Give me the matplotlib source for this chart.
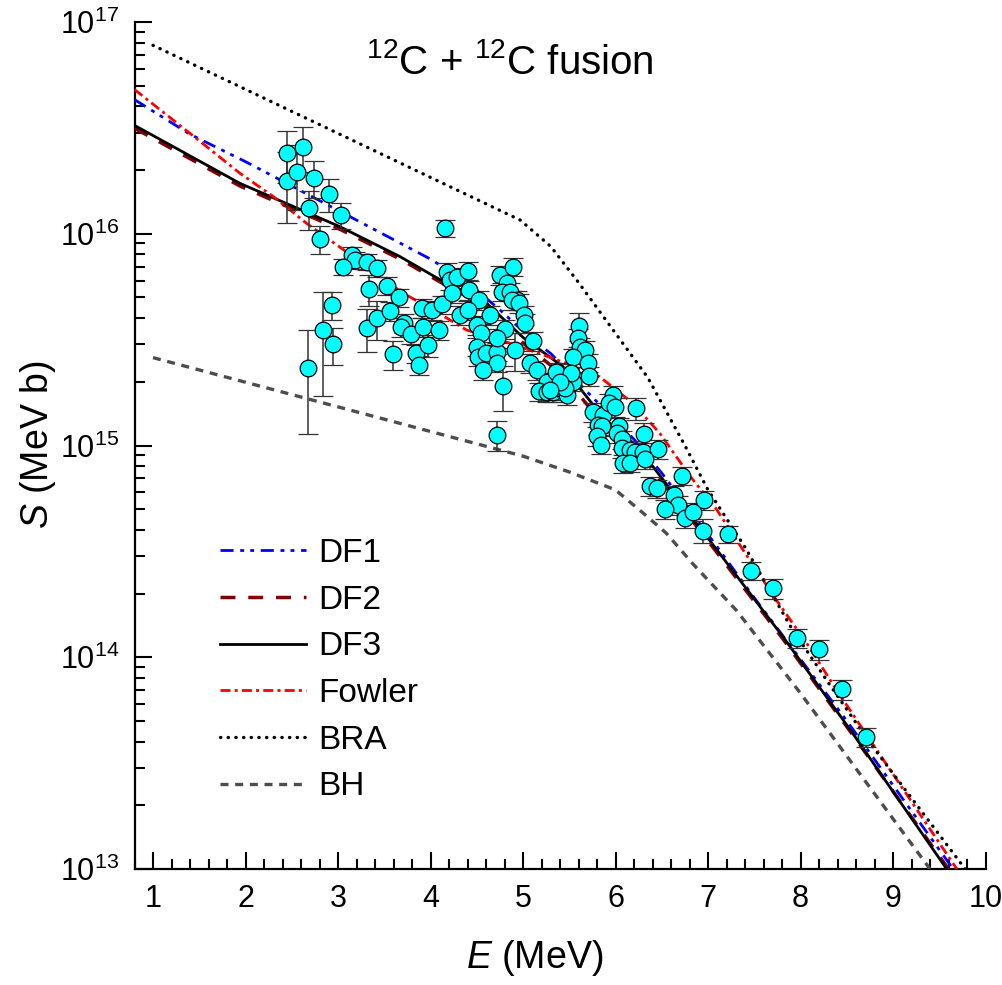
import matplotlib
matplotlib.use('Agg')
import matplotlib.pyplot as plt
import numpy as np
from matplotlib.ticker import LogLocator, MultipleLocator, LogFormatterMathtext, NullFormatter

plt.rcParams['font.family'] = ['Liberation Sans', 'DejaVu Sans']
plt.rcParams['mathtext.fontset'] = 'custom'
plt.rcParams['mathtext.rm'] = 'Liberation Sans'
plt.rcParams['mathtext.it'] = 'Liberation Sans:italic'
plt.rcParams['mathtext.bf'] = 'Liberation Sans:bold'

# ---------------- data (E in MeV, S in MeV b) ----------------
exp_E = [2.445, 2.445, 2.618, 2.560, 2.741, 2.906, 2.683, 3.029, 2.809, 3.148,
         3.181, 3.057, 3.310, 3.425, 3.338, 3.526, 3.656, 2.932, 2.835, 2.949,
         2.672, 3.310, 3.418, 3.562, 3.717, 3.681, 3.786, 3.591, 3.843, 3.879,
         3.970, 3.916, 3.905, 4.019, 4.124, 4.089, 4.157, 4.175, 4.211, 4.283,
         4.409, 4.229, 4.419, 4.524, 4.319, 4.409, 4.499, 4.543, 4.643, 4.506,
         4.517, 4.600, 4.716, 4.716, 4.571, 4.781, 4.716, 4.805, 4.716, 4.914,
         4.751, 4.895, 4.824, 4.770, 4.859, 4.938, 4.878, 4.960, 5.011, 5.022,
         5.105, 5.076, 5.148, 5.256, 5.357, 5.454, 5.544, 5.176, 5.256, 5.321,
         5.392, 5.472, 5.605, 5.598, 5.616, 5.670, 5.544, 5.706, 5.717, 5.516,
         5.454, 5.400, 5.292, 5.760, 5.868, 5.814, 5.851, 5.797, 5.843, 5.970,
         5.933, 5.995, 6.041, 6.013, 6.067, 6.067, 6.157, 6.211, 6.301, 6.084,
         6.157, 6.222, 6.308, 6.463, 6.319, 6.373, 6.452, 6.632, 6.672, 6.535,
         6.751, 6.841, 6.957, 6.716, 6.949, 7.213, 7.462, 7.706, 7.959, 8.203,
         8.452, 8.708]
exp_S15 = [24.0, 17.75, 25.8, 19.6, 18.4, 15.4, 13.2, 12.2, 9.41, 7.94,
           7.52, 6.99, 7.38, 6.87, 5.48, 5.68, 5.01, 4.61, 3.51, 3.00,
           2.32, 3.58, 3.99, 4.32, 3.78, 3.62, 3.35, 2.70, 2.72, 2.40,
           2.98, 3.62, 4.45, 4.36, 4.64, 3.51, 10.6, 6.62, 6.05, 6.27,
           6.69, 5.23, 5.43, 4.87, 4.13, 4.36, 3.71, 3.41, 4.13, 2.93,
           2.63, 2.72, 2.77, 2.46, 2.27, 1.91, 1.12, 3.54, 3.21, 2.82,
           6.38, 6.99, 5.83, 5.33, 5.33, 4.87, 4.87, 4.70, 4.13, 3.78,
           3.12, 2.45, 2.27, 2.00, 2.23, 2.00, 2.00, 1.80, 1.78, 1.78,
           1.86, 1.73, 3.68, 3.23, 2.93, 2.82, 2.61, 2.46, 2.13, 2.21,
           1.86, 2.00, 1.83, 1.44, 1.39, 1.25, 1.23, 1.11, 1.01, 1.73,
           1.59, 1.52, 1.23, 1.14, 1.07, 0.970, 0.952, 0.935, 0.935, 0.824,
           0.829, 1.50, 1.13, 0.960, 0.861, 0.644, 0.628, 0.584, 0.524, 0.500,
           0.453, 0.487, 0.553, 0.720, 0.396, 0.381, 0.256, 0.212, 0.123, 0.109,
           0.0706, 0.0419]
exp_rel = [0.28, 0.37, 0.24, 0.34, 0.20, 0.18, 0.21, 0.14, 0.15, 0.09,
           0.09, 0.09, 0.09, 0.09, 0.17, 0.10, 0.10, 0.15, 0.51, 0.20,
           0.51, 0.23, 0.21, 0.10, 0.10, 0.10, 0.10, 0.16, 0.10, 0.10,
           0.12, 0.10, 0.10, 0.10, 0.10, 0.10, 0.09, 0.10, 0.10, 0.10,
           0.10, 0.10, 0.10, 0.10, 0.10, 0.10, 0.10, 0.10, 0.10, 0.10,
           0.10, 0.10, 0.10, 0.10, 0.10, 0.24, 0.16, 0.10, 0.10, 0.20,
           0.10, 0.10, 0.10, 0.10, 0.10, 0.10, 0.10, 0.10, 0.10, 0.10,
           0.10, 0.10, 0.10, 0.10, 0.10, 0.10, 0.10, 0.10, 0.10, 0.10,
           0.10, 0.10, 0.15, 0.10, 0.10, 0.10, 0.10, 0.10, 0.10, 0.10,
           0.10, 0.10, 0.10, 0.10, 0.10, 0.10, 0.10, 0.10, 0.10, 0.10,
           0.10, 0.10, 0.10, 0.10, 0.10, 0.10, 0.10, 0.10, 0.10, 0.10,
           0.10, 0.12, 0.13, 0.10, 0.10, 0.10, 0.10, 0.10, 0.10, 0.10,
           0.10, 0.10, 0.10, 0.10, 0.13, 0.09, 0.10, 0.11, 0.10, 0.11,
           0.11, 0.10]

df1_E = [0.8, 1.4, 2.0, 3.0, 4.0, 4.4, 4.75, 5.1, 5.3, 5.7, 6.2, 6.5, 7.05, 7.5, 8.5, 9.65]
df1_S = [4.3e16, 2.95e16, 2.19e16, 1.29e16, 7.59e15, 5.89e15, 4.37e15, 3.16e15,
         2.72e15, 1.78e15, 1.07e15, 7.41e14, 3.55e14, 1.91e14, 5.01e13, 1.0e13]

df3_E = [0.8, 1.94, 3.02, 3.67, 4.14, 4.57, 5.0, 5.43, 5.83, 6.37, 7.09, 7.81, 8.54, 9.58]
df3_S = [3.25e16, 1.73e16, 1.08e16, 7.80e15, 5.94e15, 4.86e15, 3.24e15, 2.36e15,
         1.42e15, 8.32e14, 3.24e14, 1.25e14, 4.53e13, 1.0e13]

df2_E = [0.8, 1.94, 3.02, 3.67, 4.14, 4.57, 5.0, 5.43, 5.83, 6.37, 7.09, 7.81, 8.54, 9.6]
df2_S = [3.15e16, 1.68e16, 1.05e16, 7.6e15, 5.8e15, 4.6e15, 3.05e15, 2.15e15,
         1.32e15, 8.0e14, 3.15e14, 1.22e14, 4.45e13, 1.0e13]

fowler_E = [0.8, 1.5, 1.94, 2.3, 2.66, 3.17, 3.7, 4.03, 4.39, 4.86, 5.18, 5.47, 5.83,
            6.19, 6.48, 6.81, 7.09, 7.45, 7.74, 8.07, 8.39, 8.68, 9.69]
fowler_S = [4.8e16, 2.75e16, 1.93e16, 1.50e16, 1.12e16, 7.76e15, 5.25e15, 4.37e15,
            3.51e15, 3.04e15, 2.72e15, 2.44e15, 2.11e15, 1.58e15, 1.14e15, 7.13e14,
            5.01e14, 2.88e14, 1.86e14, 1.16e14, 7.0e13, 4.53e13, 1.0e13]

bra_E = [1.0, 4.97, 5.3, 5.6, 5.95, 6.35, 6.75, 7.0, 7.4, 7.9, 8.3, 8.75, 9.78]
bra_S = [7.76e16, 1.16e16, 8.71e15, 5.89e15, 3.63e15, 2.09e15, 1.0e15, 6.17e14,
         3.31e14, 1.38e14, 7.59e13, 3.94e13, 1.0e13]

bh_E = [1.0, 5.0, 5.5, 6.0, 6.3, 6.55, 6.84, 7.31, 8.0, 9.4]
bh_S = [2.60e15, 8.91e14, 7.50e14, 6.17e14, 4.79e14, 3.85e14, 2.75e14, 1.66e14, 6.76e13, 1.0e13]

legend_labels = ['DF1', 'DF2', 'DF3', 'Fowler', 'BRA', 'BH']

# ---------------- figure ----------------
W, H = 1002, 985
fig = plt.figure(figsize=(W / 100, H / 100), dpi=100)
ax = fig.add_axes([134.5 / W, 1 - 869 / H, (985.5 - 134.5) / W, (869 - 22) / H])

S = np.array(exp_S15) * 1e15
err = S * np.array(exp_rel)

l1, = ax.plot(df1_E, df1_S, color='#0000FF', lw=2.0, dashes=(4.7, 2.4, 1.4, 2.2, 1.4, 2.4), zorder=3)
l2, = ax.plot(df2_E, df2_S, color='#800000', lw=2.5, dashes=(4.3, 3.7), zorder=3)
l3, = ax.plot(df3_E, df3_S, color='black', lw=2.0, zorder=3)
l4, = ax.plot(fowler_E, fowler_S, color='#FF0000', lw=2.0, dashes=(3.6, 1.5, 1.1, 1.5), zorder=3)
l5, = ax.plot(bra_E, bra_S, color='black', lw=2.4, dashes=(0.1, 2.2), dash_capstyle='round', zorder=3)
l6, = ax.plot(bh_E, bh_S, color='#4d4d4d', lw=2.4, dashes=(2.4, 2.0), zorder=3)

ax.errorbar(exp_E, S, yerr=err, fmt='o', ms=12, mfc='#00FFFF', mec='black', mew=0.9,
            ecolor='#333333', elinewidth=1.1, capsize=7, capthick=1.1, zorder=4)

ax.set_xlim(0.8, 10)
ax.set_yscale('log')
ax.set_ylim(1e13, 1e17)

for s in ['top', 'right']:
    ax.spines[s].set_visible(False)
for s in ['left', 'bottom']:
    ax.spines[s].set_linewidth(1.6)

ax.xaxis.set_major_locator(MultipleLocator(1))
ax.xaxis.set_minor_locator(MultipleLocator(0.2))
ax.yaxis.set_major_locator(LogLocator(base=10, numticks=10))
ax.yaxis.set_minor_locator(LogLocator(base=10, subs=np.arange(2, 10), numticks=20))
ax.yaxis.set_major_formatter(LogFormatterMathtext())
ax.yaxis.set_minor_formatter(NullFormatter())
ax.tick_params(which='major', direction='in', length=12, width=1.5, labelsize=22, pad=11)
ax.tick_params(which='minor', direction='in', length=7, width=1.5)
ax.tick_params(top=False, right=False, which='both')

fig.text(510 / W, 1 - 62 / H, r'$^{12}$C + $^{12}$C fusion', ha='center', va='center', fontsize=29)
fig.text(38 / W, 1 - 445 / H, r'$S$ (MeV b)', ha='center', va='center', rotation=90, fontsize=27)
fig.text(535 / W, 1 - 958 / H, r'$E$ (MeV)', ha='center', va='center', fontsize=27)

leg = fig.legend([l1, l2, l3, l4, l5, l6], legend_labels, loc='upper left',
                 bbox_to_anchor=(220 / W, 1 - 538 / H), frameon=False, fontsize=24,
                 handlelength=2.58, handletextpad=0.36, labelspacing=0.47,
                 borderpad=0, borderaxespad=0)

fig.savefig('out.png', dpi=100)
